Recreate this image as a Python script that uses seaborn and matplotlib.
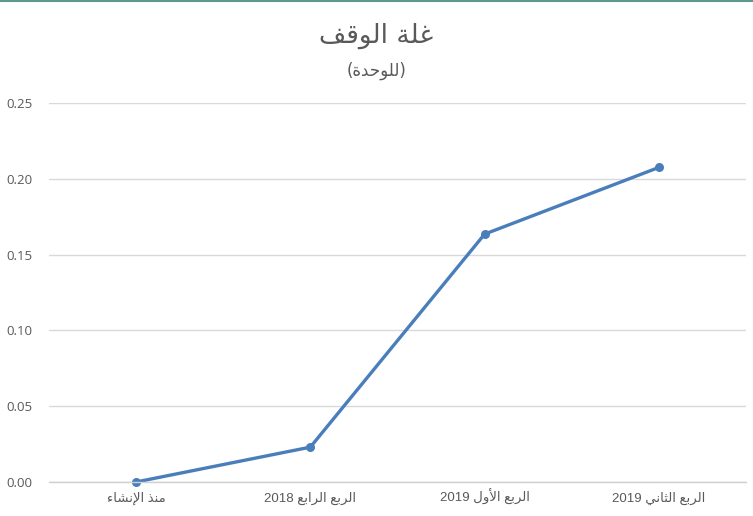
import matplotlib
matplotlib.use("Agg")
import matplotlib.pyplot as plt
from matplotlib.lines import Line2D
import seaborn as sns
import pandas as pd

# ---- data ----
categories = ["منذ الإنشاء", "الربع الرابع 2018", "الربع الأول 2019", "الربع الثاني 2019"]
values = [0.0, 0.023, 0.1635, 0.2075]
title_text = "غلة الوقف"
subtitle_text = "(للوحدة)"
y_ticks = [0.00, 0.05, 0.10, 0.15, 0.20, 0.25]

# ---- minimal Arabic shaping + visual ordering (matplotlib has no shaping) ----
FORMS = {  # isolated, final, initial, medial
    "ا": (0xFE8D, 0xFE8E, None, None), "أ": (0xFE83, 0xFE84, None, None),
    "إ": (0xFE87, 0xFE88, None, None), "ء": (0xFE80, None, None, None),
    "ب": (0xFE8F, 0xFE90, 0xFE91, 0xFE92), "ة": (0xFE93, 0xFE94, None, None),
    "ث": (0xFE99, 0xFE9A, 0xFE9B, 0xFE9C), "ح": (0xFEA1, 0xFEA2, 0xFEA3, 0xFEA4),
    "د": (0xFEA9, 0xFEAA, None, None), "ذ": (0xFEAB, 0xFEAC, None, None),
    "ر": (0xFEAD, 0xFEAE, None, None), "ش": (0xFEB5, 0xFEB6, 0xFEB7, 0xFEB8),
    "ع": (0xFEC9, 0xFECA, 0xFECB, 0xFECC), "غ": (0xFECD, 0xFECE, 0xFECF, 0xFED0),
    "ف": (0xFED1, 0xFED2, 0xFED3, 0xFED4), "ق": (0xFED5, 0xFED6, 0xFED7, 0xFED8),
    "ل": (0xFEDD, 0xFEDE, 0xFEDF, 0xFEE0), "م": (0xFEE1, 0xFEE2, 0xFEE3, 0xFEE4),
    "ن": (0xFEE5, 0xFEE6, 0xFEE7, 0xFEE8), "و": (0xFEED, 0xFEEE, None, None),
    "ي": (0xFEF1, 0xFEF2, 0xFEF3, 0xFEF4),
    "لا": (0xFEFB, 0xFEFC, None, None), "لأ": (0xFEF7, 0xFEF8, None, None),
    "لإ": (0xFEF9, 0xFEFA, None, None),
}


def shape(text):
    toks, i = [], 0
    while i < len(text):
        if text[i] == "ل" and i + 1 < len(text) and text[i:i + 2] in FORMS:
            toks.append(text[i:i + 2]); i += 2
        else:
            toks.append(text[i]); i += 1
    out = []
    for k, t in enumerate(toks):
        if t not in FORMS:
            out.append(t); continue
        f = FORMS[t]
        prev = toks[k - 1] if k > 0 else None
        nxt = toks[k + 1] if k + 1 < len(toks) else None
        jp = prev in FORMS and FORMS[prev][2] is not None and f[1] is not None
        jn = f[2] is not None and nxt in FORMS and FORMS[nxt][1] is not None
        if jp and jn:
            cp = f[3]
        elif jp:
            cp = f[1]
        elif jn:
            cp = f[2]
        else:
            cp = f[0]
        out.append(chr(cp))
    s = "".join(out)[::-1]
    # restore digit runs to LTR and mirror brackets
    res, run = [], ""
    for ch in s:
        if ch.isdigit():
            run += ch
        else:
            if run:
                res.append(run[::-1]); run = ""
            res.append({"(": ")", ")": "("}.get(ch, ch))
    if run:
        res.append(run[::-1])
    return "".join(res)


labels = [shape(c) for c in categories]
df = pd.DataFrame({"cat": labels, "val": values})

sns.set_theme(style="white")
plt.rcParams["font.family"] = ["Liberation Sans", "DejaVu Sans"]

fig = plt.figure(figsize=(7.53, 5.16), dpi=100)
ax = fig.add_axes([0.065, 0.0659, 0.9257, 0.7345])

sns.lineplot(data=df, x="cat", y="val", sort=False, ax=ax, color="#4a7ebb",
             linewidth=2.4, marker="o", markersize=6.5, markeredgewidth=0,
             clip_on=False)

ax.set_xlim(-0.5, 3.5)
ax.set_ylim(0, 0.25)
ax.set_yticks(y_ticks)
ax.set_yticklabels([f"{v:.2f}" for v in y_ticks],
                   family=["Open Sans", "DejaVu Sans"], fontsize=9.5, color="#595959")
ax.tick_params(axis="y", length=0, pad=12)
ax.tick_params(axis="x", length=0, pad=14.5, labelsize=9.5, labelcolor="#595959")
for t in ax.get_xticklabels():
    t.set_va("baseline")
ax.set_xlabel("")
ax.set_ylabel("")
ax.grid(axis="y", color="#d9d9d9", linewidth=1)
ax.set_axisbelow(True)
for s in ["top", "right", "left"]:
    ax.spines[s].set_visible(False)
ax.spines["bottom"].set_color("#d0d0d0")
ax.spines["bottom"].set_linewidth(1)

fig.text(0.5, 0.930, shape(title_text), ha="center", va="center",
         fontsize=19, color="#595959", family=["DejaVu Sans"])
fig.text(0.5, 0.862, shape(subtitle_text), ha="center", va="center",
         fontsize=12, color="#595959", family=["DejaVu Sans"])

fig.add_artist(Line2D([0, 1], [0.998, 0.998], transform=fig.transFigure,
                      color="#5f9690", linewidth=1.5))

fig.savefig("out.png", dpi=100)
